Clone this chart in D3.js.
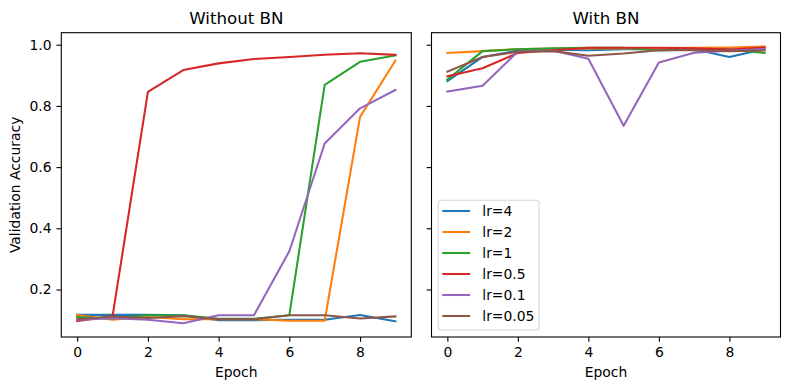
<!DOCTYPE html>
<html>
<head>
<meta charset="utf-8">
<script src="https://cdn.jsdelivr.net/npm/d3@7"></script>
<style>
  html, body { margin: 0; padding: 0; background: #fff; }
  svg { display: block; }
  text { font-family: "DejaVu Sans", sans-serif; fill: #000; }
</style>
</head>
<body>
<svg id="chart" width="790" height="390"></svg>
<script>
// ---- data ----
const epochs = [0, 1, 2, 3, 4, 5, 6, 7, 8, 9];
const labels = ["lr=4", "lr=2", "lr=1", "lr=0.5", "lr=0.1", "lr=0.05"];
const colors = ["#1f77b4", "#ff7f0e", "#2ca02c", "#d62728", "#9467bd", "#8c564b"];
const panelTitles = ["Without BN", "With BN"];
const xTicks = [0, 2, 4, 6, 8];
const yTicks = [0.2, 0.4, 0.6, 0.8, 1.0];

// Without BN
const noBN_lr4   = [0.117, 0.117, 0.117, 0.116, 0.100, 0.100, 0.101, 0.101, 0.117, 0.096];
const noBN_lr2   = [0.117, 0.101, 0.110, 0.103, 0.103, 0.103, 0.098, 0.098, 0.764, 0.948];
const noBN_lr1   = [0.110, 0.105, 0.116, 0.116, 0.104, 0.104, 0.116, 0.869, 0.944, 0.965];
const noBN_lr05  = [0.097, 0.113, 0.846, 0.917, 0.939, 0.953, 0.960, 0.967, 0.972, 0.967];
const noBN_lr01  = [0.101, 0.106, 0.101, 0.090, 0.116, 0.116, 0.325, 0.677, 0.792, 0.852];
const noBN_lr005 = [0.103, 0.112, 0.107, 0.113, 0.103, 0.103, 0.116, 0.116, 0.105, 0.112];

// With BN
const bn_lr4   = [0.881, 0.960, 0.981, 0.984, 0.982, 0.985, 0.985, 0.985, 0.960, 0.986];
const bn_lr2   = [0.973, 0.979, 0.986, 0.987, 0.988, 0.988, 0.989, 0.990, 0.991, 0.994];
const bn_lr1   = [0.886, 0.979, 0.985, 0.988, 0.990, 0.990, 0.981, 0.985, 0.985, 0.973];
const bn_lr05  = [0.897, 0.923, 0.973, 0.982, 0.990, 0.990, 0.990, 0.988, 0.984, 0.991];
const bn_lr01  = [0.847, 0.866, 0.978, 0.981, 0.954, 0.735, 0.942, 0.974, 0.980, 0.986];
const bn_lr005 = [0.912, 0.960, 0.977, 0.979, 0.964, 0.971, 0.982, 0.982, 0.979, 0.981];

const panels = [
  [noBN_lr4, noBN_lr2, noBN_lr1, noBN_lr05, noBN_lr01, noBN_lr005],
  [bn_lr4, bn_lr2, bn_lr1, bn_lr05, bn_lr01, bn_lr005]
];

// ---- layout ----
const svg = d3.select("#chart");
const axesBoxes = [
  { x0: 61.3, x1: 411.3 },
  { x0: 431.5, x1: 780.5 }
];
const yTop = 32.7, yBot = 337;

const allVals = panels.flat(2);
const [vmin, vmax] = d3.extent(allVals);
const pad = (vmax - vmin) * 0.05;
const y = d3.scaleLinear().domain([vmin - pad, vmax + pad]).range([yBot, yTop]);

const tickLen = 4.86, tickPad = 4.86, fs = 13.9;

panels.forEach((series, pi) => {
  const box = axesBoxes[pi];
  const x = d3.scaleLinear().domain([-0.45, 9.45]).range([box.x0, box.x1]);
  const g = svg.append("g");

  // clip
  const clipId = "clip" + pi;
  svg.append("clipPath").attr("id", clipId).append("rect")
    .attr("x", box.x0).attr("y", yTop).attr("width", box.x1 - box.x0).attr("height", yBot - yTop);

  const line = d3.line().x((d, i) => x(epochs[i])).y(d => y(d));
  const lg = g.append("g").attr("clip-path", `url(#${clipId})`);
  series.forEach((s, si) => {
    lg.append("path").datum(s)
      .attr("d", line)
      .attr("fill", "none")
      .attr("stroke", colors[si])
      .attr("stroke-width", 2.08)
      .attr("stroke-linejoin", "round")
      .attr("stroke-linecap", "square");
  });

  // x axis
  const xa = g.append("g").attr("transform", `translate(0,${yBot})`)
    .call(d3.axisBottom(x).tickValues(xTicks).tickFormat(d3.format("d")).tickSize(tickLen).tickPadding(tickPad));
  xa.select(".domain").remove();
  xa.selectAll("line").attr("stroke", "#000").attr("stroke-width", 1.1);
  xa.selectAll("text").attr("font-size", fs).attr("font-family", "DejaVu Sans").attr("fill", "#000");

  // y axis
  const ya = g.append("g").attr("transform", `translate(${box.x0},0)`)
    .call(d3.axisLeft(y).tickValues(yTicks).tickFormat(d3.format(".1f")).tickSize(tickLen).tickPadding(tickPad));
  ya.select(".domain").remove();
  ya.selectAll("line").attr("stroke", "#000").attr("stroke-width", 1.1);
  ya.selectAll("text").attr("font-size", fs).attr("font-family", "DejaVu Sans").attr("fill", "#000");
  if (pi === 1) ya.selectAll("text").remove();

  // spines
  g.append("rect")
    .attr("x", box.x0).attr("y", yTop)
    .attr("width", box.x1 - box.x0).attr("height", yBot - yTop)
    .attr("fill", "none").attr("stroke", "#000").attr("stroke-width", 1.1);

  // title
  g.append("text")
    .attr("x", (box.x0 + box.x1) / 2).attr("y", 24)
    .attr("text-anchor", "middle").attr("font-size", 16.67)
    .text(panelTitles[pi]);

  // x label
  g.append("text")
    .attr("x", (box.x0 + box.x1) / 2).attr("y", 376.8)
    .attr("text-anchor", "middle").attr("font-size", fs)
    .text("Epoch");

  if (pi === 0) {
    g.append("text")
      .attr("transform", `translate(20.4,${(yTop + yBot) / 2}) rotate(-90)`)
      .attr("text-anchor", "middle").attr("font-size", fs)
      .text("Validation Accuracy");
  }

  if (pi === 1) {
    // legend
    const leg = g.append("g");
    leg.append("rect")
      .attr("x", 438.3).attr("y", 200.3).attr("width", 100.7).attr("height", 129.7)
      .attr("rx", 3).attr("ry", 3)
      .attr("fill", "#fff").attr("fill-opacity", 0.8)
      .attr("stroke", "#d6d6d6").attr("stroke-width", 1.1);
    labels.forEach((lab, i) => {
      const cy = 211 + i * 21.0;
      leg.append("line")
        .attr("x1", 442.3).attr("x2", 470.1).attr("y1", cy).attr("y2", cy)
        .attr("stroke", colors[i]).attr("stroke-width", 2.08);
      leg.append("text")
        .attr("x", 482.3).attr("y", cy + 5.2)
        .attr("font-size", fs).text(lab);
    });
  }
});
</script>
</body>
</html>
